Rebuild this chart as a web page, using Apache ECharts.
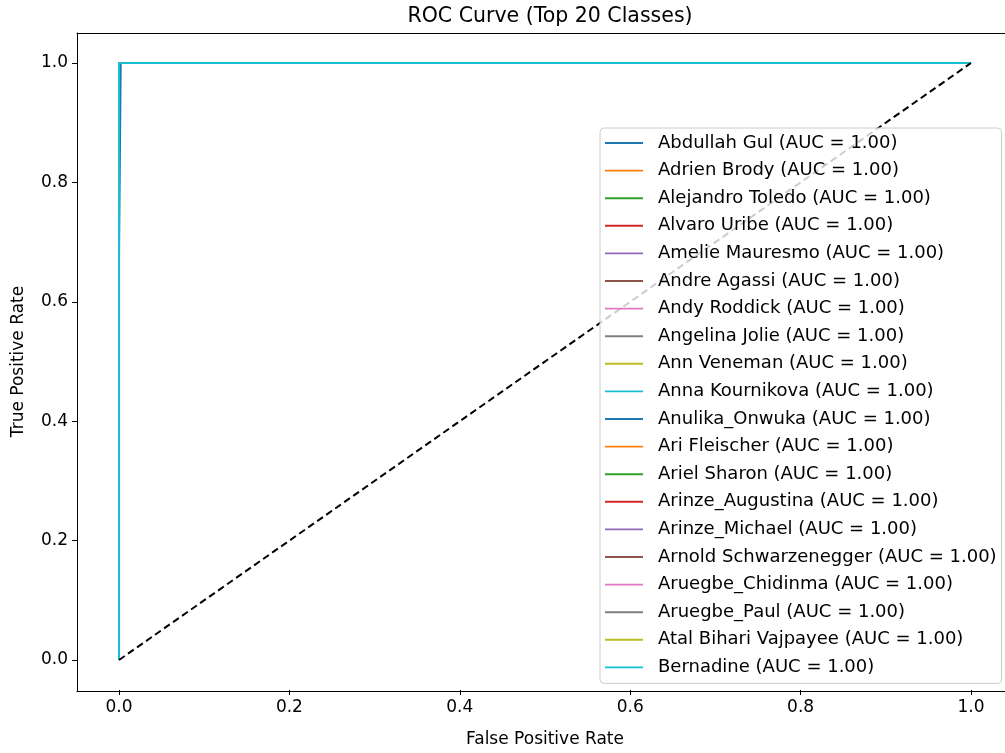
<!DOCTYPE html>
<html>
<head>
<meta charset="utf-8">
<script src="https://cdn.jsdelivr.net/npm/echarts@6/dist/echarts.min.js"></script>
<style>html,body{margin:0;padding:0;background:#fff}#c{width:1005px;height:753px}</style>
</head>
<body>
<div id="c"></div>
<script>
const classNames = ["Abdullah Gul","Adrien Brody","Alejandro Toledo","Alvaro Uribe","Amelie Mauresmo","Andre Agassi","Andy Roddick","Angelina Jolie","Ann Veneman","Anna Kournikova","Anulika_Onwuka","Ari Fleischer","Ariel Sharon","Arinze_Augustina","Arinze_Michael","Arnold Schwarzenegger","Aruegbe_Chidinma","Aruegbe_Paul","Atal Bihari Vajpayee","Bernadine"];
const aucValues = [1,1,1,1,1,1,1,1,1,1,1,1,1,1,1,1,1,1,1,1];
// FPR / TPR points per class (most are perfect)
const perfectFpr = [0, 0, 1];
const perfectTpr = [0, 1, 1];
const abdullahFpr = [0, 0, 0.002, 0.002, 1];
const abdullahTpr = [0, 0.667, 0.667, 1, 1];
const diagFpr = [0, 1];
const diagTpr = [0, 1];
const xTicks = [0, 0.2, 0.4, 0.6, 0.8, 1.0];
const yTicks = [0, 0.2, 0.4, 0.6, 0.8, 1.0];
const colors = ["#1f77b4","#ff7f0e","#2ca02c","#d62728","#9467bd","#8c564b","#e377c2","#7f7f7f","#bcbd22","#17becf"];

const font = "DejaVu Sans";
const zip = (a, b) => a.map((v, i) => [v, b[i]]);

const series = classNames.map((n, i) => {
  const fpr = i === 0 ? abdullahFpr : perfectFpr;
  const tpr = i === 0 ? abdullahTpr : perfectTpr;
  return {
    name: n + " (AUC = " + aucValues[i].toFixed(2) + ")",
    type: "line",
    xAxisIndex: 0, yAxisIndex: 0,
    data: zip(fpr, tpr),
    symbol: "none",
    clip: false,
    lineStyle: { width: 2, color: colors[i % 10] },
    itemStyle: { color: colors[i % 10] },
    emphasis: { disabled: true },
    animation: false,
    z: 2
  };
});
series.push({
  name: "diag",
  type: "line",
  xAxisIndex: 0, yAxisIndex: 0,
  data: zip(diagFpr, diagTpr),
  symbol: "none",
  clip: false,
  lineStyle: { width: 2, color: "#000", type: [7, 4] },
  animation: false,
  z: 3
});

const frameAxis = {
  type: "value", min: -0.05, max: 1.05, gridIndex: 1,
  axisLine: { show: true, onZero: false, lineStyle: { color: "#000", width: 1 } },
  axisTick: { show: false }, axisLabel: { show: false }, splitLine: { show: false }
};

const chart = echarts.init(document.getElementById("c"), null, { renderer: "canvas" });
chart.setOption({
  animation: false,
  color: colors,
  title: {
    text: "ROC Curve (Top 20 Classes)",
    left: 545, top: 1, textAlign: "center",
    textStyle: { fontFamily: font, fontSize: 20.5, fontWeight: "normal", color: "#000" }
  },
  grid: [
    { left: 119, right: 34, top: 63, bottom: 92, containLabel: false },
    { left: 77, right: -9, top: 33, bottom: 62, containLabel: false }
  ],
  legend: {
    orient: "vertical",
    left: 600, top: 128,
    data: series.slice(0, 20).map(s => s.name),
    icon: "path://M0,0 L40,0 L40,2 L0,2 Z",
    itemWidth: 38, itemHeight: 2,
    itemGap: 7.6,
    padding: [5, 5, 6, 5],
    backgroundColor: "rgba(255,255,255,0.8)",
    borderColor: "#cccccc", borderWidth: 1, borderRadius: 4,
    textStyle: { fontFamily: font, fontSize: 18, color: "#000", lineHeight: 20, padding: [0, 0, 0, 10] },
    selectedMode: false
  },
  xAxis: [{
    type: "value", min: 0, max: 1, interval: 0.2, offset: 30, gridIndex: 0,
    name: "False Positive Rate", nameLocation: "middle", nameGap: 41,
    nameTextStyle: { fontFamily: font, fontSize: 17, color: "#000" },
    axisLine: { show: false, onZero: false },
    axisTick: { show: true, length: 5, lineStyle: { color: "#000" } },
    axisLabel: { fontFamily: font, fontSize: 17, color: "#000", margin: 9, formatter: v => v.toFixed(1) },
    splitLine: { show: false }
  },
  Object.assign({ position: "bottom" }, frameAxis),
  Object.assign({ position: "top" }, frameAxis)],
  yAxis: [{
    type: "value", min: 0, max: 1, interval: 0.2, offset: 42, gridIndex: 0,
    name: "True Positive Rate", nameLocation: "middle", nameGap: 50, nameRotate: 90,
    nameTextStyle: { fontFamily: font, fontSize: 17, color: "#000" },
    axisLine: { show: false, onZero: false },
    axisTick: { show: true, length: 5, lineStyle: { color: "#000" } },
    axisLabel: { fontFamily: font, fontSize: 17, color: "#000", margin: 9, formatter: v => v.toFixed(1) },
    splitLine: { show: false }
  },
  Object.assign({ position: "left" }, frameAxis),
  Object.assign({ position: "right" }, frameAxis)],
  series: series
});
</script>
</body>
</html>
